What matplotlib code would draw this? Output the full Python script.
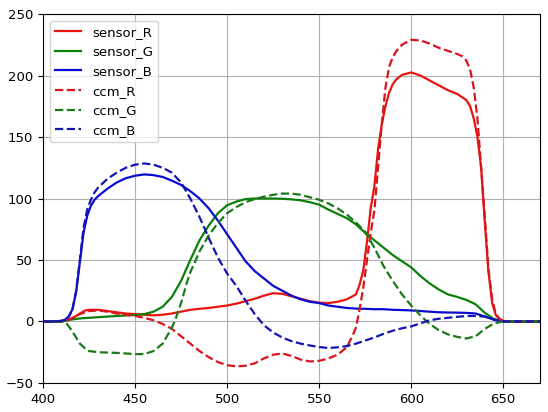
import matplotlib.pyplot as plt
import numpy as np

# wavelength (nm) and response for each curve
wl_sR = [400, 405, 410, 413, 415, 418, 420, 423, 425, 430, 435, 440, 445, 450, 455, 460, 465, 470, 475, 480,
         485, 490, 495, 500, 505, 510, 515, 520, 525, 530, 535, 540, 545, 550, 555, 560, 565, 570, 572, 574,
         576, 578, 580, 582, 584, 586, 588, 590, 592, 595, 600, 605, 610, 615, 620, 625, 630, 632, 634, 636,
         638, 640, 642, 644, 646, 648, 650, 655, 680]
sensor_R = [0, 0, 0, 1, 2, 4.5, 6.5, 9, 9.5, 9.5, 8.5, 7.5, 6.5, 6, 5.5, 5, 5.5, 6.5, 8, 9.5,
            10.3, 11, 12, 13, 14.5, 16.5, 18.5, 21, 23, 22.5, 20.5, 18.5, 16.5, 15.3, 15, 16, 18, 22, 30, 42,
            65, 92, 110, 140, 160, 175, 186, 193, 197, 200.5, 202.5, 200, 196, 192, 188, 185, 180, 175, 165, 150,
            125, 80, 40, 15, 5, 2, 0.5, 0, 0]

wl_sG = [400, 405, 410, 415, 420, 425, 430, 440, 450, 455, 460, 465, 470, 475, 480, 485, 490, 495, 500, 505,
         510, 515, 520, 525, 530, 535, 540, 545, 550, 555, 560, 565, 570, 575, 580, 585, 590, 595, 600, 605,
         610, 615, 620, 625, 630, 635, 640, 645, 650, 655, 680]
sensor_G = [0, 0, 0, 1.5, 2.5, 3, 3.5, 4.5, 5.3, 6, 8, 12, 20, 33, 50, 66, 78, 88, 94.5, 97.5,
            99.5, 100, 100, 100, 99.8, 99.3, 98.5, 97, 95, 91, 87.5, 84, 79, 72, 66, 60, 54, 49, 44, 37,
            31, 26, 22, 20, 17.5, 14, 7, 2, 0, 0, 0]

wl_sB = [400, 405, 410, 412, 414, 416, 418, 420, 422, 424, 426, 428, 430, 435, 440, 445, 450, 455, 460, 465,
         470, 475, 480, 485, 490, 495, 500, 505, 510, 515, 520, 525, 530, 535, 540, 545, 550, 555, 560, 565,
         570, 575, 580, 585, 590, 595, 600, 605, 610, 615, 620, 625, 630, 635, 640, 645, 650, 655, 680]
sensor_B = [0, 0, 0.5, 1.5, 4, 10, 24, 48, 72, 86, 94, 99, 102, 108, 113, 116.5, 118.5, 119.6, 119, 117.5,
            114.5, 111, 106, 100, 92, 82, 71, 60, 49, 41, 35, 29, 25, 21, 18, 16, 15, 13, 12, 11,
            10.5, 10.3, 10, 10, 9.5, 9.3, 9, 8.5, 8, 7.5, 7.3, 7.2, 7, 6.5, 4, 1.5, 0.3, 0, 0]

wl_cR = [400, 405, 410, 415, 420, 425, 430, 435, 440, 445, 450, 455, 460, 465, 470, 475, 480, 485, 490, 495,
         500, 505, 510, 515, 520, 525, 530, 535, 540, 545, 550, 555, 560, 565, 568, 570, 572, 574, 576, 578,
         580, 582, 584, 586, 588, 590, 592, 595, 600, 605, 610, 615, 620, 625, 628, 630, 632, 634, 636, 638,
         640, 642, 644, 646, 648, 650, 655, 680]
ccm_R = [0, 0, 0, 2, 6, 8.5, 9, 8, 6.5, 5.5, 4.5, 3, 1, -2, -6, -12, -18, -24, -29, -33,
         -35.5, -36.5, -36, -34, -30, -27, -26, -28, -31, -32.5, -32, -30, -27, -21, -12, -5, 10, 28, 50, 72,
         90, 125, 160, 190, 207, 215, 220, 225, 229, 228.5, 226, 222.5, 220, 217.5, 215.5, 212, 205, 190, 165, 125,
         85, 42, 18, 6, 2, 0.5, 0, 0]

wl_cG = [400, 405, 410, 413, 415, 418, 420, 423, 425, 430, 440, 450, 455, 460, 465, 470, 472, 475, 478, 480,
         483, 485, 490, 495, 500, 505, 510, 515, 520, 525, 530, 535, 540, 545, 550, 555, 560, 565, 570, 575,
         580, 585, 590, 595, 600, 605, 610, 615, 620, 625, 630, 635, 640, 645, 650, 655, 680]
ccm_G = [0, 0, 0, -2, -6, -13, -18, -22, -24, -25, -25.5, -26.5, -26.5, -24, -18, -5, 2, 15, 31, 40,
         50, 57, 70, 80, 88, 93, 97, 99.5, 101.5, 103, 104, 104, 103, 101, 99, 96, 92, 87, 80.5, 73,
         60, 45, 33, 22, 13, 5, -2, -7, -10.5, -12.5, -13.8, -12, -6, -1.5, 0, 0, 0]

wl_cB = [400, 405, 410, 412, 414, 416, 418, 420, 422, 424, 426, 428, 430, 435, 440, 445, 450, 455, 460, 465,
         470, 475, 480, 485, 490, 495, 500, 505, 510, 515, 520, 525, 530, 535, 540, 545, 550, 555, 560, 565,
         570, 575, 580, 585, 590, 595, 600, 605, 610, 615, 620, 625, 630, 635, 640, 645, 650, 655, 680]
ccm_B = [0, 0, 0.5, 1.5, 4, 10, 25, 50, 76, 91, 99, 105, 109, 116, 121, 125, 127.5, 128.5, 127.5, 125,
         121, 113, 100, 85, 68, 52, 39, 29, 17, 6, -3, -9, -13, -16, -18, -19.5, -20.8, -21.5, -21, -20,
         -18, -15.5, -13, -10, -7.5, -5.5, -4, -1.5, 1, 2.2, 3, 3.8, 4.5, 4.5, 4, 1.5, 0, 0, 0]

plt.rcParams['font.size'] = 9.5

fig = plt.figure(figsize=(5.48, 4.12), dpi=100)
ax = fig.add_axes([0.0785, 0.0704, 0.907, 0.8956])

lw = 1.6
ax.plot(wl_sR, sensor_R, color='#e8140f', lw=lw, label='sensor_R')
ax.plot(wl_sG, sensor_G, color='#0a800a', lw=lw, label='sensor_G')
ax.plot(wl_sB, sensor_B, color='#0a0ad2', lw=lw, label='sensor_B')
ax.plot(wl_cR, ccm_R, '--', color='#d8141e', lw=lw, label='ccm_R')
ax.plot(wl_cG, ccm_G, '--', color='#1a7a1a', lw=lw, label='ccm_G')
ax.plot(wl_cB, ccm_B, '--', color='#1414b4', lw=lw, label='ccm_B')

ax.set_xlim(400, 670)
ax.set_ylim(-50, 250)
ax.set_xticks([400, 450, 500, 550, 600, 650])
ax.grid(True)
ax.legend(loc='upper left')

fig.savefig('out.png', dpi=100)
